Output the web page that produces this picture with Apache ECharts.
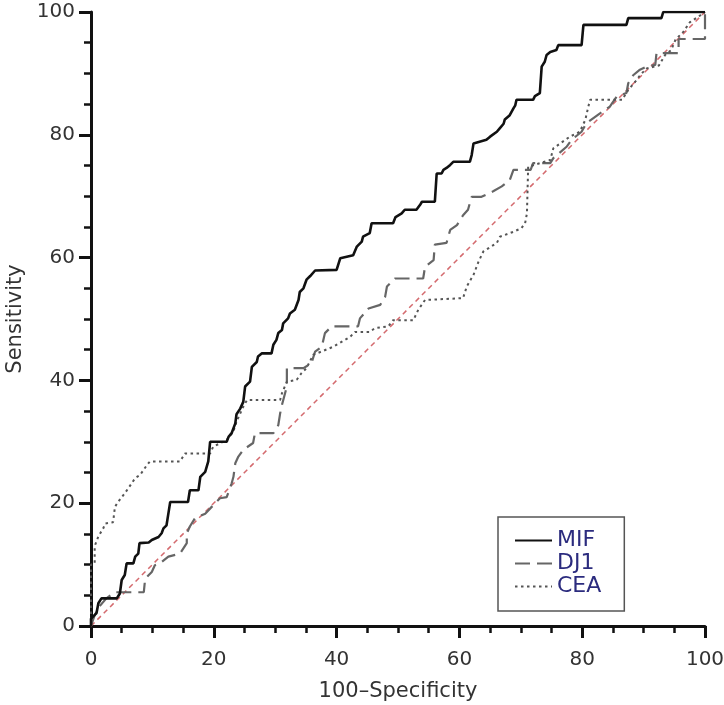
<!DOCTYPE html>
<html>
<head>
<meta charset="utf-8">
<script src="https://cdn.jsdelivr.net/npm/echarts@6/dist/echarts.min.js"></script>
<style>
  html, body { margin: 0; padding: 0; background: #fff; }
  #roc { width: 724px; height: 705px; }
</style>
</head>
<body>
<div id="roc"></div>
<script>
// ROC curves, [100-specificity, sensitivity] vertices
var mifPoints = [[0,0],[0,1.2],[0.9,2.1],[1.2,3.7],[1.7,4.5],[4.2,4.5],[4.7,5.3],[5.0,7.5],[5.5,8.3],[5.8,10.2],[6.9,10.2],[7.2,11.3],[7.7,11.8],[7.9,13.5],[9.4,13.6],[9.9,14],[11,14.5],[11.5,15.1],[11.8,15.9],[12.3,16.4],[12.6,18.3],[12.9,20.2],[15.8,20.2],[16.1,22.1],[17.5,22.1],[17.8,24.3],[18.6,25.1],[19.1,26.8],[19.4,30],[22.1,30],[22.4,30.8],[22.9,31.4],[23.5,33],[23.7,34.5],[24.3,35.4],[24.8,36.5],[25.1,39],[25.9,39.8],[26.2,42.2],[27,43],[27.2,43.9],[27.8,44.4],[29.4,44.4],[29.7,45.8],[30.2,46.6],[30.5,47.7],[31.1,48.2],[31.3,49.3],[32.1,50.1],[32.4,50.9],[33.2,51.5],[33.8,53.1],[34,54.4],[34.6,55],[35.1,56.4],[35.7,57],[36.5,57.9],[40,58],[40.6,59.9],[42.7,60.4],[43.3,61.8],[44.1,62.6],[44.3,63.4],[45.4,64],[45.7,65.6],[49.2,65.6],[49.6,66.6],[50.6,67.2],[51.1,67.8],[53,67.8],[53.6,68.6],[53.9,69.1],[56,69.1],[56.3,73.7],[57.1,73.7],[57.4,74.3],[57.9,74.6],[58.5,75.1],[59,75.6],[61.7,75.6],[62,76.7],[62.3,78.6],[64.4,79.2],[65,79.7],[66.1,80.5],[66.6,81.1],[67.2,81.8],[67.4,82.5],[68.2,83.2],[68.8,84.3],[69.1,84.8],[69.3,85.7],[72,85.7],[72.3,86.3],[73.1,86.8],[73.4,91.1],[73.9,91.9],[74.2,93],[74.8,93.5],[75.8,93.8],[76.1,94.6],[79.9,94.6],[80.2,97.9],[87.2,97.9],[87.5,99],[92.9,99],[93.2,100],[100,100]];

var dj1Points = [[0,0],[0.5,1.5],[1.2,3],[2.5,4.5],[3.9,5.5],[8.6,5.5],[8.8,7.5],[9.1,8],[9.9,8.8],[10.4,9.9],[11.2,10.2],[12.6,11.3],[14.5,11.8],[15.6,13.5],[15.6,15.1],[16.1,16.2],[16.9,17.5],[18.6,18.3],[21,20.8],[22.1,21],[22.9,23.2],[23.2,24.3],[23.5,26.5],[24,27.6],[24.8,28.7],[26.4,29.8],[26.7,31.4],[29.7,31.4],[30.5,32.7],[30.8,34.6],[31.1,36],[31.9,39],[31.9,42],[34.6,42],[35.9,42.8],[36.5,44.7],[37.6,45.5],[38.1,47.7],[39.2,48.8],[43.5,48.8],[43.8,50.1],[45.2,51.7],[47.1,52.3],[47.9,53.6],[48.2,55.3],[49.5,56.6],[54.1,56.6],[54.4,58.5],[55.8,59.6],[56,62.1],[57.9,62.4],[58.5,64.5],[59.6,65.3],[60.6,66.9],[61.4,67.8],[62,69.9],[63.6,69.9],[65.5,70.8],[66.9,71.6],[68.2,72.6],[68.8,74.3],[71.6,74.3],[72,75.4],[74.8,75.4],[75.3,76.2],[77.5,78.1],[78.3,79.2],[79.9,80.5],[80.7,81.9],[82.9,83.5],[84.5,84.6],[85.6,86.2],[87.2,86.8],[87.5,88.4],[88.3,89.7],[89.4,90.6],[90.5,91.1],[91.9,91.4],[92.1,93.3],[95.7,93.3],[95.7,95.6],[100,95.6],[100,100]];

var ceaPoints = [[0,0],[0,10],[0.6,10.2],[0.6,13],[1.2,14.6],[2,15.9],[2.3,16.7],[3.6,16.9],[3.9,19.4],[4.4,20.2],[5.5,21.6],[6.6,23.2],[7.2,24.1],[8,24.6],[9.1,26.2],[9.6,26.8],[14.5,26.8],[15.3,28.1],[19.4,28.1],[19.9,29.2],[22.1,30.3],[23.2,31.7],[23.7,33.3],[24.8,35.7],[25.4,36.8],[30.8,36.8],[31.1,37.9],[31.9,39.8],[33.5,40.1],[34.3,41.2],[35.1,42],[36.2,44.2],[36.8,44.4],[39.5,45.5],[42.2,47.1],[43,47.9],[45.4,47.9],[46.2,48.5],[48.4,48.8],[49.2,49.8],[52.5,49.8],[53.3,51.5],[54.4,53.1],[60.6,53.4],[61.2,55.3],[62.3,57.2],[63.1,59.3],[63.9,61],[66.1,62.4],[66.6,63.4],[68.8,64.2],[70.1,64.8],[70.7,65.6],[71,67.2],[71.2,74.8],[74.8,75.9],[75.3,77.8],[78,79.7],[79.6,80.5],[80.5,82.4],[81,84.6],[81.3,85.7],[86.5,85.7],[87.5,87.3],[88.6,88.6],[89.5,89.8],[90.5,90.8],[92.5,91.3],[93.5,93],[94.5,93.8],[95.2,95.5],[96.5,96.8],[97.5,98.3],[99.3,99.5],[100,100]];

var refPoints = [[0,0],[100,100]];

var seriesNames = ['MIF', 'DJ1', 'CEA'];
var tickLabels = ['0', '20', '40', '60', '80', '100'];

var chart = echarts.init(document.getElementById('roc'));
var font = '"DejaVu Sans", Arial, sans-serif';

function axis(name, gap) {
  return {
    type: 'value',
    min: 0,
    max: 100,
    interval: 20,
    name: name,
    nameLocation: 'middle',
    nameGap: gap,
    nameTextStyle: { color: '#333', fontSize: 21, fontFamily: font },
    axisLine: { show: true, onZero: false, lineStyle: { color: '#111', width: 3 } },
    axisTick: { show: true, inside: false, length: 12, lineStyle: { color: '#111', width: 3 } },
    minorTick: { show: true, splitNumber: 4, length: 7, lineStyle: { color: '#111', width: 2.5 } },
    splitLine: { show: false },
    axisLabel: {
      color: '#333',
      fontSize: 20,
      fontFamily: font,
      formatter: function (v) { return tickLabels[v / 20]; }
    }
  };
}

var xAxis = axis('100\u2013Specificity', 55);
xAxis.axisLabel.margin = 24;
var yAxis = axis('Sensitivity', 65);
yAxis.axisLabel.margin = 16;

chart.setOption({
  backgroundColor: '#fff',
  animation: false,
  grid: { left: 91, right: 19, top: 12, bottom: 79, outerBoundsMode: 'none', containLabel: false },
  legend: {
    data: seriesNames,
    orient: 'vertical',
    left: 498,
    top: 517,
    padding: [12, 23, 13, 16],
    itemGap: 0,
    itemWidth: 37,
    itemHeight: 14,
    borderColor: '#555',
    borderWidth: 1.5,
    itemStyle: { opacity: 0 },
    textStyle: { color: '#2b2b7e', fontSize: 22, lineHeight: 23, fontFamily: font },
    selectedMode: false
  },
  xAxis: xAxis,
  yAxis: yAxis,
  series: [
    {
      name: 'MIF',
      type: 'line',
      data: mifPoints,
      symbol: 'none',
      z: 4,
      lineStyle: { color: '#111', width: 2.6 },
      itemStyle: { color: '#111' }
    },
    {
      name: 'DJ1',
      type: 'line',
      data: dj1Points,
      symbol: 'none',
      z: 3,
      lineStyle: { color: '#666', width: 2.2, type: [15, 7] },
      itemStyle: { color: '#666' }
    },
    {
      name: 'CEA',
      type: 'line',
      data: ceaPoints,
      symbol: 'none',
      z: 3,
      lineStyle: { color: '#555', width: 2, type: [2.5, 3.5] },
      itemStyle: { color: '#555' }
    },
    {
      name: 'ref',
      type: 'line',
      data: refPoints,
      symbol: 'none',
      z: 2,
      lineStyle: { color: '#d46a6e', width: 1.5, type: [5, 4] }
    }
  ]
});
</script>
</body>
</html>
